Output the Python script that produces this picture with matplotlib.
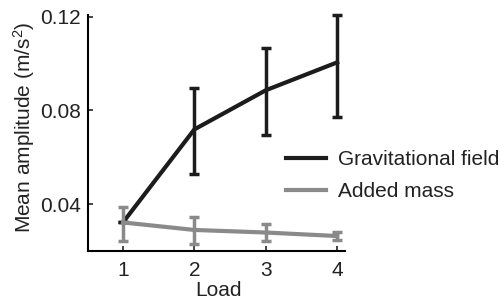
import numpy as np
import matplotlib.pyplot as plt

plt.rcParams['font.family'] = ['Liberation Sans', 'DejaVu Sans']
plt.rcParams['mathtext.fontset'] = 'custom'
plt.rcParams['mathtext.rm'] = 'Liberation Sans'
plt.rcParams['mathtext.it'] = 'Liberation Sans:italic'

load = [1, 2, 3, 4]
grav_mean = [0.0322, 0.0719, 0.0886, 0.1005]
grav_lo = [0.0322, 0.0528, 0.0697, 0.0774]
grav_hi = [0.0322, 0.0894, 0.1067, 0.1209]
mass_mean = [0.0322, 0.0290, 0.0279, 0.0264]
mass_lo = [0.0242, 0.0232, 0.0243, 0.0248]
mass_hi = [0.0387, 0.0347, 0.0316, 0.0280]

dark = '#1c1c1c'
grey = '#8a8a8a'
txt = '#222222'

fig = plt.figure(figsize=(5.01, 3.01), dpi=100)
ax = fig.add_axes([0.1756, 0.166, 0.513, 0.784])

g_err = [np.subtract(grav_mean, grav_lo), np.subtract(grav_hi, grav_mean)]
m_err = [np.subtract(mass_mean, mass_lo), np.subtract(mass_hi, mass_mean)]

ax.errorbar(load, grav_mean, yerr=g_err, color=dark, lw=3, elinewidth=2.5,
            capsize=3.5, capthick=2.5, label='Gravitational field', zorder=2,
            clip_on=False)
ax.errorbar(load, mass_mean, yerr=m_err, color=grey, lw=3, elinewidth=2.5,
            capsize=3.5, capthick=2.5, label='Added mass', zorder=3,
            clip_on=False)

ax.set_xlim(0.51, 4.11)
ax.set_ylim(0.02, 0.1207)
ax.set_xticks(load)
ax.set_yticks([0.04, 0.08, 0.12])
ax.set_yticklabels(['0.04', '0.08', '0.12'])
ax.spines['top'].set_visible(False)
ax.spines['right'].set_visible(False)
ax.spines['left'].set_linewidth(1.5)
ax.spines['bottom'].set_linewidth(1.5)
ax.tick_params(direction='in', length=3.5, width=1.2, labelsize=15, colors=txt)
ax.tick_params(axis='y', pad=5)
ax.tick_params(axis='x', pad=7)
ax.set_xlabel('Load', fontsize=15, color=txt)
ax.set_ylabel('Mean amplitude (m/s$^2$)', fontsize=15, color=txt)
ax.xaxis.set_label_coords(0.506, -0.128)
ax.yaxis.set_label_coords(-0.197, 0.525)

h, l = ax.get_legend_handles_labels()
h = [x[0] for x in h]
fig.legend(h, l, loc='upper left', bbox_to_anchor=(0.571, 0.502), frameon=False,
           fontsize=15, handlelength=1.9, handletextpad=0.6, labelspacing=0.64,
           labelcolor=txt, borderaxespad=0, borderpad=0)

fig.savefig('out.png', dpi=100)
